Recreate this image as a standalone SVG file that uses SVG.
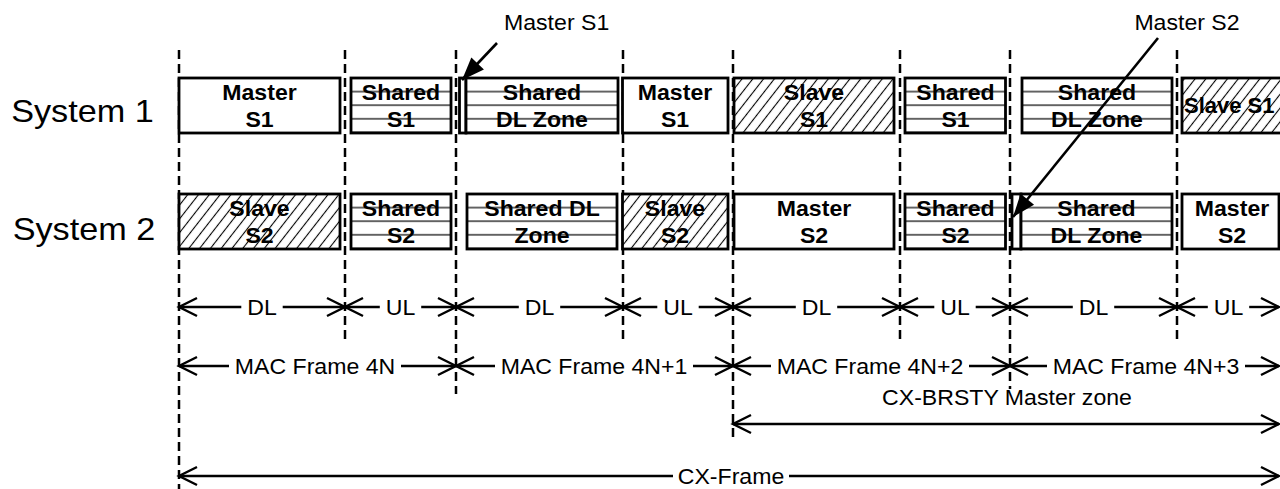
<svg xmlns="http://www.w3.org/2000/svg" width="1280" height="489" viewBox="0 0 1280 489">
  <style>
    .t { font-family: "Liberation Sans", Arial, sans-serif; font-size: 22px; text-anchor: middle; fill: #000; }
    .b { font-weight: bold; }
    .sys { font-size: 32px; }
    .st { text-anchor: start; }
    .box { stroke: #000; stroke-width: 2.8; }
    .plain { fill: #fff; }
    .hatch { fill: url(#hatch); }
    .s1 { fill: url(#stripes1); }
    .s2 { fill: url(#stripes2); }
    .dash { stroke: #000; stroke-width: 2.5; stroke-dasharray: 9 5; fill: none; }
    .dim { stroke: #000; stroke-width: 2.4; fill: none; }
    .dimL { marker-start: url(#open); }
    .dimR { marker-end: url(#open); }
    .call { stroke: #000; stroke-width: 2.6; fill: none; marker-end: url(#solid); }
  </style>
  <defs>
    <pattern id="hatch" patternUnits="userSpaceOnUse" width="8.5" height="8.5" patternTransform="rotate(38)">
      <rect width="8.5" height="8.5" fill="#fff"/>
      <line x1="4.25" y1="0" x2="4.25" y2="8.5" stroke="#000" stroke-width="1.1"/>
    </pattern>
    <pattern id="stripes1" patternUnits="userSpaceOnUse" x="0" y="84.8" width="20" height="13.6">
      <rect width="20" height="13.6" fill="#fff"/>
      <line x1="0" y1="6.8" x2="20" y2="6.8" stroke="#000" stroke-width="1.2"/>
    </pattern>
    <pattern id="stripes2" patternUnits="userSpaceOnUse" x="0" y="200.8" width="20" height="13.6">
      <rect width="20" height="13.6" fill="#fff"/>
      <line x1="0" y1="6.8" x2="20" y2="6.8" stroke="#000" stroke-width="1.2"/>
    </pattern>
    <marker id="open" markerUnits="userSpaceOnUse" markerWidth="26" markerHeight="26" viewBox="-22 -13 26 26" refX="0" refY="0" orient="auto-start-reverse" overflow="visible">
      <path d="M-18,-9 L0,0 L-18,9" fill="none" stroke="#000" stroke-width="2.4"/>
    </marker>
    <marker id="solid" markerUnits="userSpaceOnUse" markerWidth="26" markerHeight="26" viewBox="-22 -12 24 24" refX="0" refY="0" orient="auto" overflow="visible">
      <path d="M-21,-8 L0,0 L-21,8 Z" fill="#000"/>
    </marker>
  </defs>

  <!-- frame boundaries -->
  <g id="boundaries">
    <line class="dash" x1="179" y1="50" x2="179" y2="489"/>
    <line class="dash" x1="345" y1="50" x2="345" y2="341"/>
    <line class="dash" x1="456" y1="50" x2="456" y2="394"/>
    <line class="dash" x1="623" y1="50" x2="623" y2="341"/>
    <line class="dash" x1="733" y1="50" x2="733" y2="437"/>
    <line class="dash" x1="900" y1="50" x2="900" y2="341"/>
    <line class="dash" x1="1010" y1="50" x2="1010" y2="389"/>
    <line class="dash" x1="1177" y1="50" x2="1177" y2="341"/>
  </g>

  <!-- row labels -->
  <g id="system1-label"><text class="t sys" transform="translate(82.5,122) scale(1.07,1)">System 1</text></g>
  <g id="system2-label"><text class="t sys" transform="translate(84,240) scale(1.07,1)">System 2</text></g>

  <!-- System 1 zones -->
  <g id="s1-master-a">
    <rect class="box plain" x="179" y="78" width="161" height="55"/>
    <text class="t b" transform="translate(259.5,99.5) scale(1.05,1)">Master</text>
    <text class="t b" transform="translate(259.5,127) scale(1.05,1)">S1</text>
  </g>
  <g id="s1-shared-a">
    <rect class="box s1" x="351" y="78" width="100" height="55"/>
    <text class="t b" transform="translate(401,99.5) scale(1.05,1)">Shared</text>
    <text class="t b" transform="translate(401,127) scale(1.05,1)">S1</text>
  </g>
  <g id="s1-gap-a">
    <rect class="box plain" x="459.5" y="78" width="6.5" height="55"/>
  </g>
  <g id="s1-shared-dl-a">
    <rect class="box s1" x="466" y="78" width="152" height="55"/>
    <text class="t b" transform="translate(542,99.5) scale(1.05,1)">Shared</text>
    <text class="t b" transform="translate(542,127) scale(1.05,1)">DL Zone</text>
  </g>
  <g id="s1-master-b">
    <rect class="box plain" x="622.5" y="78" width="105.5" height="55"/>
    <text class="t b" transform="translate(675,99.5) scale(1.05,1)">Master</text>
    <text class="t b" transform="translate(675,127) scale(1.05,1)">S1</text>
  </g>
  <g id="s1-slave-a">
    <rect class="box hatch" x="734" y="78" width="160" height="55"/>
    <text class="t b" transform="translate(814,99.5) scale(1.05,1)">Slave</text>
    <text class="t b" transform="translate(814,127) scale(1.05,1)">S1</text>
  </g>
  <g id="s1-shared-b">
    <rect class="box s1" x="905" y="78" width="100.5" height="55"/>
    <text class="t b" transform="translate(955.5,99.5) scale(1.05,1)">Shared</text>
    <text class="t b" transform="translate(955.5,127) scale(1.05,1)">S1</text>
  </g>
  <g id="s1-shared-dl-b">
    <rect class="box s1" x="1022" y="78" width="150" height="55"/>
    <text class="t b" transform="translate(1097,99.5) scale(1.05,1)">Shared</text>
    <text class="t b" transform="translate(1097,127) scale(1.05,1)">DL Zone</text>
  </g>
  <g id="s1-slave-b">
    <rect class="box hatch" x="1182" y="78" width="120" height="55"/>
    <text class="t b st" transform="translate(1184,112.5)">Slave S1</text>
  </g>

  <!-- System 2 zones -->
  <g id="s2-slave-a">
    <rect class="box hatch" x="179" y="194" width="161" height="55"/>
    <text class="t b" transform="translate(259.5,215.5) scale(1.05,1)">Slave</text>
    <text class="t b" transform="translate(259.5,243) scale(1.05,1)">S2</text>
  </g>
  <g id="s2-shared-a">
    <rect class="box s2" x="351" y="194" width="100" height="55"/>
    <text class="t b" transform="translate(401,215.5) scale(1.05,1)">Shared</text>
    <text class="t b" transform="translate(401,243) scale(1.05,1)">S2</text>
  </g>
  <g id="s2-shared-dl-a">
    <rect class="box s2" x="467" y="194" width="150" height="55"/>
    <text class="t b" transform="translate(542,215.5) scale(1.05,1)">Shared DL</text>
    <text class="t b" transform="translate(542,243) scale(1.05,1)">Zone</text>
  </g>
  <g id="s2-slave-b">
    <rect class="box hatch" x="622.5" y="194" width="105.5" height="55"/>
    <text class="t b" transform="translate(675,215.5) scale(1.05,1)">Slave</text>
    <text class="t b" transform="translate(675,243) scale(1.05,1)">S2</text>
  </g>
  <g id="s2-master-a">
    <rect class="box plain" x="734" y="194" width="160" height="55"/>
    <text class="t b" transform="translate(814,215.5) scale(1.05,1)">Master</text>
    <text class="t b" transform="translate(814,243) scale(1.05,1)">S2</text>
  </g>
  <g id="s2-shared-b">
    <rect class="box s2" x="905" y="194" width="100.5" height="55"/>
    <text class="t b" transform="translate(955.5,215.5) scale(1.05,1)">Shared</text>
    <text class="t b" transform="translate(955.5,243) scale(1.05,1)">S2</text>
  </g>
  <g id="s2-gap-b">
    <rect class="box plain" x="1012" y="194" width="9" height="55"/>
  </g>
  <g id="s2-shared-dl-b">
    <rect class="box s2" x="1021" y="194" width="151" height="55"/>
    <text class="t b" transform="translate(1096.5,215.5) scale(1.05,1)">Shared</text>
    <text class="t b" transform="translate(1096.5,243) scale(1.05,1)">DL Zone</text>
  </g>
  <g id="s2-master-b">
    <rect class="box plain" x="1182" y="194" width="97" height="55"/>
    <text class="t b" transform="translate(1232,215.5) scale(1.05,1)">Master</text>
    <text class="t b" transform="translate(1232,243) scale(1.05,1)">S2</text>
  </g>

  <!-- callout labels -->
  <g id="callout-master-s1"><text class="t st" transform="translate(504,30) scale(1.05,1)">Master S1</text></g>
  <g id="callout-master-s2"><text class="t" transform="translate(1187,30) scale(1.05,1)">Master S2</text></g>

  <!-- dimension labels -->
  <g id="dim-labels">
    <text class="t" transform="translate(262,314.5) scale(1.05,1)">DL</text>
    <text class="t" transform="translate(400.5,314.5) scale(1.05,1)">UL</text>
    <text class="t" transform="translate(539.5,314.5) scale(1.05,1)">DL</text>
    <text class="t" transform="translate(678,314.5) scale(1.05,1)">UL</text>
    <text class="t" transform="translate(816.5,314.5) scale(1.05,1)">DL</text>
    <text class="t" transform="translate(955,314.5) scale(1.05,1)">UL</text>
    <text class="t" transform="translate(1093.5,314.5) scale(1.05,1)">DL</text>
    <text class="t" transform="translate(1228.5,314.5) scale(1.05,1)">UL</text>
    <text class="t" transform="translate(315,373.5) scale(1.05,1)">MAC Frame 4N</text>
    <text class="t" transform="translate(594,373.5) scale(1.05,1)">MAC Frame 4N+1</text>
    <text class="t" transform="translate(870,373.5) scale(1.05,1)">MAC Frame 4N+2</text>
    <text class="t" transform="translate(1146,373.5) scale(1.05,1)">MAC Frame 4N+3</text>
    <text class="t" transform="translate(1007,405) scale(1.05,1)">CX-BRSTY Master zone</text>
    <text class="t" transform="translate(731,483.5) scale(1.05,1)">CX-Frame</text>
  </g>

  <!-- connectors -->
  <g id="connectors">
    <line class="call" x1="497" y1="43" x2="462" y2="80"/>
    <line class="call" x1="1158" y1="38" x2="1013" y2="217"/>

    <line class="dim dimL" x1="179" y1="307" x2="241.3" y2="307"/>
    <line class="dim dimR" x1="282.7" y1="307" x2="345" y2="307"/>
    <line class="dim dimL" x1="345" y1="307" x2="379.8" y2="307"/>
    <line class="dim dimR" x1="421.2" y1="307" x2="456" y2="307"/>
    <line class="dim dimL" x1="456" y1="307" x2="518.8" y2="307"/>
    <line class="dim dimR" x1="560.2" y1="307" x2="623" y2="307"/>
    <line class="dim dimL" x1="623" y1="307" x2="657.3" y2="307"/>
    <line class="dim dimR" x1="698.7" y1="307" x2="733" y2="307"/>
    <line class="dim dimL" x1="733" y1="307" x2="795.8" y2="307"/>
    <line class="dim dimR" x1="837.2" y1="307" x2="900" y2="307"/>
    <line class="dim dimL" x1="900" y1="307" x2="934.3" y2="307"/>
    <line class="dim dimR" x1="975.7" y1="307" x2="1010" y2="307"/>
    <line class="dim dimL" x1="1010" y1="307" x2="1072.8" y2="307"/>
    <line class="dim dimR" x1="1114.2" y1="307" x2="1177" y2="307"/>
    <line class="dim dimL" x1="1177" y1="307" x2="1207.8" y2="307"/>
    <line class="dim dimR" x1="1249.2" y1="307" x2="1279" y2="307"/>

    <line class="dim dimL" x1="179" y1="366" x2="229" y2="366"/>
    <line class="dim dimR" x1="401" y1="366" x2="456" y2="366"/>
    <line class="dim dimL" x1="456" y1="366" x2="495" y2="366"/>
    <line class="dim dimR" x1="693" y1="366" x2="733" y2="366"/>
    <line class="dim dimL" x1="733" y1="366" x2="771" y2="366"/>
    <line class="dim dimR" x1="969" y1="366" x2="1010" y2="366"/>
    <line class="dim dimL" x1="1010" y1="366" x2="1047" y2="366"/>
    <line class="dim dimR" x1="1245" y1="366" x2="1279" y2="366"/>

    <line class="dim dimL dimR" x1="733" y1="424" x2="1279" y2="424"/>

    <line class="dim dimL" x1="179" y1="476" x2="673" y2="476"/>
    <line class="dim dimR" x1="789" y1="476" x2="1279" y2="476"/>
  </g>
</svg>
